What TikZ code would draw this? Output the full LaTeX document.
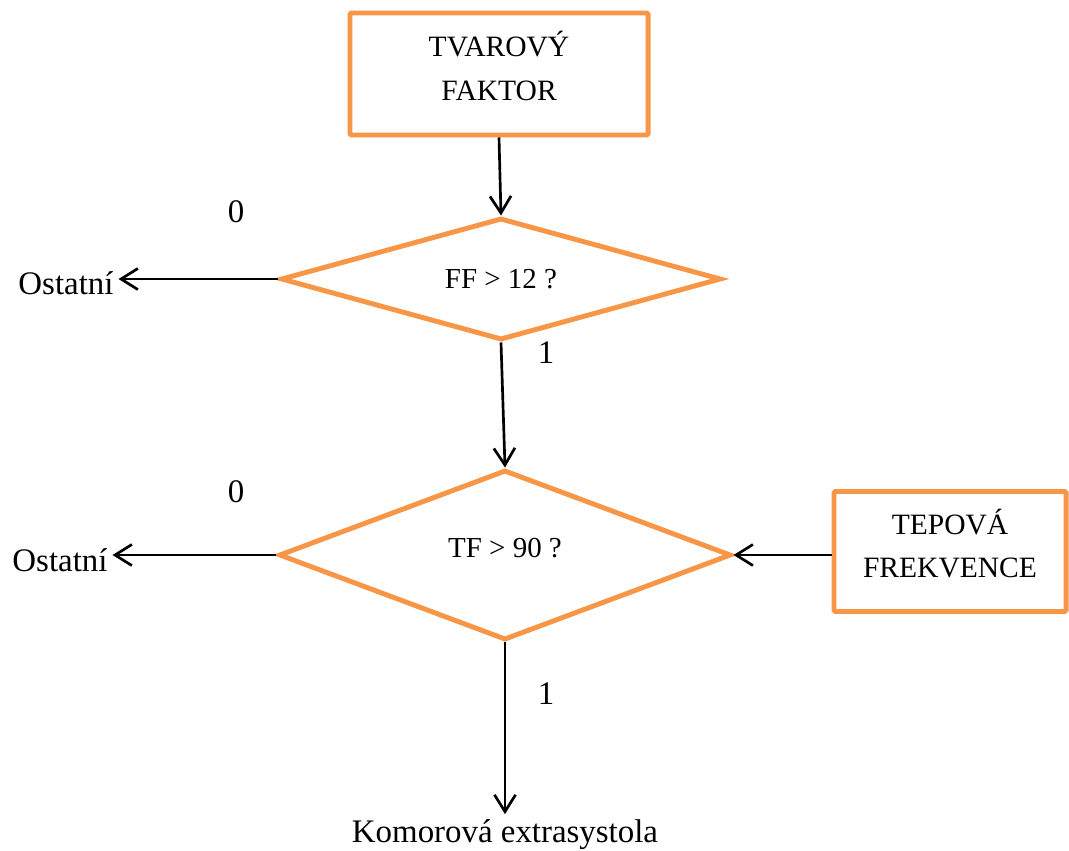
\documentclass[tikz,border=0pt]{standalone}
\usepackage{fontspec}
\setmainfont{Liberation Serif}
\usetikzlibrary{shapes.geometric,arrows.meta}
\definecolor{accorange}{RGB}{247,150,70}
\begin{document}
\begin{tikzpicture}[x=0.025cm, y=-0.025cm, >={Straight Barb[length=12pt,width=15pt]},
		box/.style={draw=accorange, line width=3.5pt, rounded corners=1pt, align=center,
			font=\fontsize{21}{31}\selectfont, text depth=0.4cm},
		decision/.style={draw=accorange, line width=3.5pt, diamond, aspect=3, inner sep=0pt,
			font=\fontsize{20.6}{25}\selectfont},
		lbl/.style={font=\fontsize{23.4}{28}\selectfont},
		flow/.style={->, line width=1.9pt}]
			\useasboundingbox (0,0) rectangle (1069,850);
			% blocks
			\node[box, minimum width=7.45cm, minimum height=3.05cm] (tvar) at (499,74) {TVAROVÝ\\FAKTOR};
			\node[decision, minimum width=11cm, minimum height=3.05cm] (d1) at (501,279) {FF > 12 ?};
			\node[decision, minimum width=11.3cm, minimum height=4.25cm, text depth=0.35cm] (d2) at (505,555) {TF > 90 ?};
			\node[box, minimum width=5.8cm, minimum height=3cm] (tep) at (950,551.5) {TEPOVÁ\\FREKVENCE};
			% labels
			\node[lbl] (ost1) at (66,283) {Ostatní};
			\node[lbl] (ost2) at (60,560) {Ostatní};
			\node[lbl] (nula1) at (236,212) {0};
			\node[lbl] (nula2) at (236,492) {0};
			\node[lbl] (jedna1) at (546,353) {1};
			\node[lbl] (jedna2) at (546,694) {1};
			\node[lbl, anchor=base] (kom) at (505,842) {Komorová extrasystola};
			% arrows
			\draw[flow] (tvar.south) -- (d1.north);
			\draw[flow] (d1.west) -- (d1.west -| ost1.east);
			\draw[flow] (d1.south) -- (d2.north);
			\draw[flow] (d2.west) -- (d2.west -| ost2.east);
			\draw[flow] (tep.west |- d2.east) -- (d2.east);
			\draw[flow] (d2.south) -- (d2.south |- kom.north);
		\end{tikzpicture}
\end{document}
